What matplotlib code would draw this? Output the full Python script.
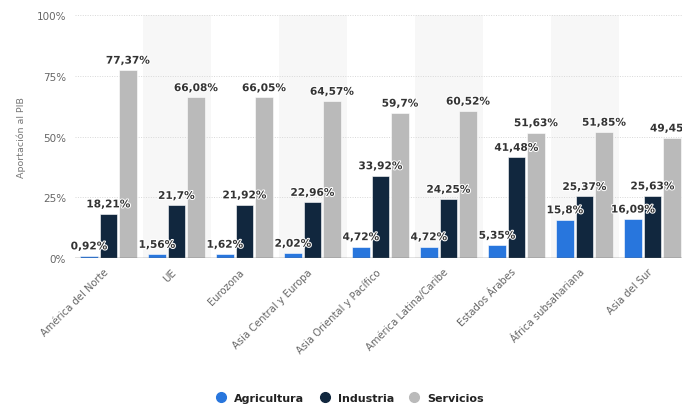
import matplotlib

matplotlib.use("Agg")
import matplotlib.pyplot as plt  # noqa: E402
from matplotlib.lines import Line2D  # noqa: E402
import matplotlib.patheffects as pe  # noqa: E402

REGIONS = [
    "América del Norte", "UE", "Eurozona", "Asia Central y Europa",
    "Asia Oriental y Pacífico", "América Latina/Caribe", "Estados Árabes",
    "África subsahariana", "Asia del Sur",
]
AGRICULTURA = [0.92, 1.56, 1.62, 2.02, 4.72, 4.72, 5.35, 15.8, 16.09]
INDUSTRIA = [18.21, 21.7, 21.92, 22.96, 33.92, 24.25, 41.48, 25.37, 25.63]
SERVICIOS = [77.37, 66.08, 66.05, 64.57, 59.7, 60.52, 51.63, 51.85, 49.45]
SERIES = ["Agricultura", "Industria", "Servicios"]
YTICKS = [0, 25, 50, 75, 100]

BLUE = "#2876dd"
NAVY = "#11273e"
GREY = "#bababa"
COLORS = [BLUE, NAVY, GREY]


def fmt(v):
    s = f"{v:.2f}".rstrip("0").rstrip(".")
    return s.replace(".", ",") + "%"


fig = plt.figure(figsize=(6.82, 4.06), dpi=100)
ax = fig.add_axes([74.5 / 682, 147 / 406, 612 / 682, 243 / 406])

# alternating shaded group bands
for i in range(len(REGIONS)):
    if i % 2 == 1:
        ax.axvspan(i - 0.5, i + 0.5, color="#f7f7f7", zorder=0, lw=0)

for y in YTICKS[1:]:
    ax.axhline(y, color="#d8d8d8", lw=0.7, ls=(0, (1, 1.5)), zorder=1)

w = 0.257
off = 0.287
x = list(range(len(REGIONS)))
for k, (vals, col) in enumerate(zip([AGRICULTURA, INDUSTRIA, SERVICIOS], COLORS)):
    xs = [xi + (k - 1) * off for xi in x]
    ax.bar(xs, vals, width=w, color=col, edgecolor="white", lw=0.4, zorder=2)
    for xi, v in zip(xs, vals):
        ax.text(xi, v + 1.8, fmt(v), ha="center", va="bottom", fontsize=7.6,
                fontweight="bold", color="#333333", zorder=4,
                path_effects=[pe.withStroke(linewidth=1.5, foreground="white")])

ax.axhline(0, color="#666666", lw=1.0, zorder=3)
ax.set_xlim(-0.5, len(REGIONS) - 0.5)
ax.set_ylim(0, 100)
ax.set_yticks(YTICKS)
ax.set_yticklabels([f"{t}%" for t in YTICKS], fontsize=7.5, color="#666666")
ax.set_xticks([xi - 0.08 for xi in x])
ax.set_xticklabels(REGIONS, rotation=45, ha="right", rotation_mode="anchor",
                   fontsize=7.2, color="#666666")
ax.tick_params(axis="both", length=0, pad=6)
ax.tick_params(axis="x", pad=6)
for s in ax.spines.values():
    s.set_visible(False)
ax.set_ylabel("Aportación al PIB", fontsize=6.8, color="#777777", labelpad=8)

handles = [Line2D([0], [0], marker="o", ls="", markersize=7, markerfacecolor=c,
                  markeredgecolor=c, label=n) for c, n in zip(COLORS, SERIES)]
leg = fig.legend(handles=handles, loc="center", bbox_to_anchor=(347 / 682, 1 - 399 / 406),
                 ncol=3, frameon=False, fontsize=8, handletextpad=0.2,
                 columnspacing=0.8)
for t in leg.get_texts():
    t.set_color("#222222")
    t.set_fontweight("semibold")

fig.savefig("out.png", dpi=100)
